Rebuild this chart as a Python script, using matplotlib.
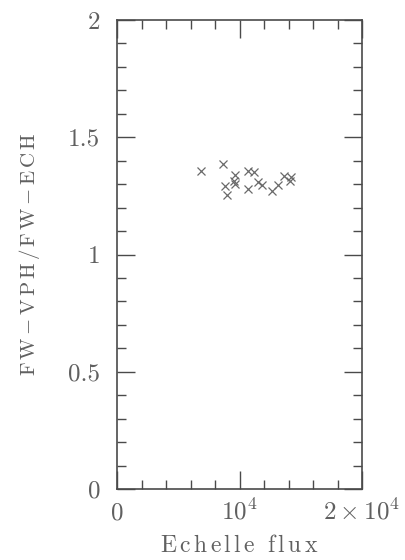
import matplotlib
matplotlib.use('Agg')

import matplotlib.pyplot as plt
from matplotlib.ticker import MultipleLocator

# Echelle flux vs ratio of VPH to echelle full widths
flux = [6857, 8629, 9633, 9576, 9592, 8816, 9004, 10669, 11208,
        10669, 11486, 11812, 12629, 13167, 13657, 14204, 14122]
fw_ratio = [1.355, 1.386, 1.340, 1.315, 1.302, 1.291, 1.255, 1.355, 1.351,
            1.279, 1.309, 1.295, 1.270, 1.295, 1.336, 1.329, 1.315]

xticks = [0, 1e4, 2e4]
xticklabels = [r'$0$', r'$10^4$', r'$2\times10^4$']
yticks = [0, 0.5, 1, 1.5, 2]
yticklabels = ['0', '0.5', '1', '1.5', '2']

INK = '#4a4a4a'
TEXT = '#606060'

plt.rcParams['mathtext.fontset'] = 'cm'
plt.rcParams['font.family'] = 'cmr10'
plt.rcParams['axes.formatter.use_mathtext'] = True


def tracked(s):
    # wide letter spacing, plotter-font style
    out = ''
    for i, ch in enumerate(s):
        nxt = s[i + 1] if i + 1 < len(s) else None
        if ch == ' ':
            out += r'\ \;'
        elif ch == '-' or nxt in (None, ' ', '-'):
            out += ch
        else:
            out += ch + r'\,'
    return r'$\mathrm{' + out + '}$'


fig = plt.figure(figsize=(4.05, 5.6), dpi=100)
ax = fig.add_axes([117 / 405, 1 - 489 / 560, 245 / 405, 469 / 560])

ax.plot(flux, fw_ratio, linestyle='none', marker='x', markersize=6,
        markeredgewidth=0.9, color='#6a6a6a')

ax.set_xlim(0, 2e4)
ax.set_ylim(0, 2)

ax.xaxis.set_minor_locator(MultipleLocator(2000))
ax.yaxis.set_minor_locator(MultipleLocator(0.1))
ax.set_xticks(xticks)
ax.set_xticklabels(xticklabels, va='baseline', color=TEXT, fontsize=18)
ax.set_yticks(yticks)
ax.set_yticklabels(yticklabels, color=TEXT, fontsize=18)

ax.tick_params(which='both', direction='in', top=True, right=True,
               color=INK, width=1.0)
ax.tick_params(axis='x', which='major', length=13, pad=22)
ax.tick_params(axis='y', which='major', length=13, pad=12)
ax.tick_params(which='minor', length=6.5)

for sp in ax.spines.values():
    sp.set_color(INK)
    sp.set_linewidth(1.2)

ax.set_xlabel(tracked('Echelle flux'), fontsize=17, color=TEXT, va='baseline')
ax.xaxis.set_label_coords(0.5, (489 - 552) / 469)
ax.set_ylabel(tracked('FW-VPH/FW-ECH'), fontsize=15, color=TEXT, va='center')
ax.yaxis.set_label_coords((30 - 117) / 245, 0.5)

fig.savefig('out.png', dpi=100)
